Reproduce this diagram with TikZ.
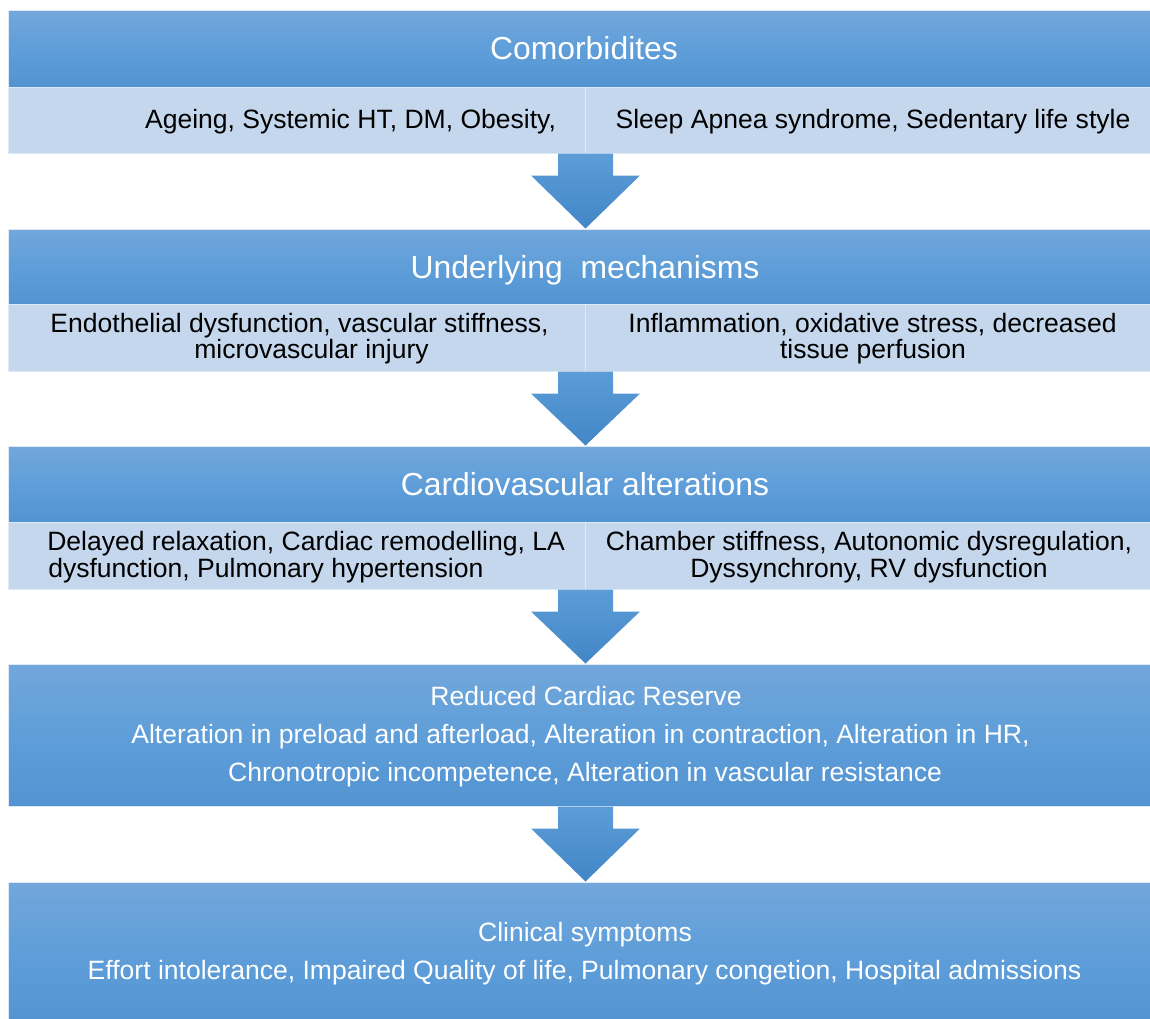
\documentclass[tikz,border=0pt]{standalone}
\usepackage{fontspec}
\setmainfont{Liberation Sans}
\usetikzlibrary{fit,calc}

\definecolor{hdrtop}{RGB}{114,167,219}
\definecolor{hdrmid}{RGB}{95,158,217}
\definecolor{hdrbot}{RGB}{82,148,210}
\definecolor{cellfill}{RGB}{197,215,236}
\definecolor{celledge}{RGB}{224,234,245}
\definecolor{arrtop}{RGB}{92,157,215}
\definecolor{arrbot}{RGB}{66,134,199}

% block arrow pointing down from a row (#1, x of the shaft) to the next band (#2)
\newcommand\flowarrow[2]{%
  \path[flow] ($(#1)+(-27.5,0)$) -- ($(#1)+(27.5,0)$) -- ($(#1)+(27.5,22)$)
    -- ($(#1)+(54.5,22)$) -- (#1 |- #2) -- ($(#1)+(-54.5,22)$)
    -- ($(#1)+(-27.5,22)$) -- cycle;}

\begin{document}
\begin{tikzpicture}[x=0.75pt,y=-0.75pt,
  band/.style={inner sep=0pt, draw=celledge, line width=0.75pt,
    top color=hdrtop, bottom color=hdrbot, middle color=hdrmid},
  cell/.style={inner sep=0pt, draw=celledge, line width=0.75pt, fill=cellfill},
  ttl/.style={text=white, font=\fontsize{23.9}{28}\selectfont, inner sep=0pt, anchor=base},
  txt/.style={text=black, font=\fontsize{19.9}{24}\selectfont, inner sep=0pt, anchor=base},
  wtxt/.style={txt, text=white},
  flow/.style={draw=none, top color=arrtop, bottom color=arrbot}]

\useasboundingbox (0,0) rectangle (1150,1018);
\clip (0,0) rectangle (1150,1018);

% ---- Comorbidites
\node[band, fit={(8,10) (1151,87)}] (h1) {};
\node[ttl] (h1t) at (584,59) {Comorbidites};
\node[cell, fit={(8,87) (585,153)}] (c1l) {};
\node[cell, fit={(585,87) (1151,153)}] (c1r) {};
\node[txt] (t1l) at (350.5,128) {Ageing, Systemic HT, DM, Obesity,};
\node[txt] (t1r) at (873,128) {Sleep Apnea syndrome, Sedentary life style};

% ---- Underlying mechanisms
\node[band, fit={(8,229) (1151,304)}] (h2) {};
\node[ttl] (h2t) at (585,278) {Underlying\ \ mechanisms};
\node[cell, fit={(8,304) (585,371)}] (c2l) {};
\node[cell, fit={(585,304) (1151,371)}] (c2r) {};
\node[txt] (t2l1) at (299.5,332) {Endothelial dysfunction, vascular stiffness,};
\node[txt] (t2l2) at (311.5,358) {microvascular injury};
\node[txt] (t2r1) at (872.5,332) {Inflammation, oxidative stress, decreased};
\node[txt] (t2r2) at (873,358) {tissue perfusion};

% ---- Cardiovascular alterations
\node[band, fit={(8,446) (1151,522)}] (h3) {};
\node[ttl] (h3t) at (585,495) {Cardiovascular alterations};
\node[cell, fit={(8,522) (585,589)}] (c3l) {};
\node[cell, fit={(585,522) (1151,589)}] (c3r) {};
\node[txt, anchor=base west] (t3l1) at (47,550) {Delayed relaxation, Cardiac remodelling, LA};
\node[txt, anchor=base west] (t3l2) at (48,577) {dysfunction, Pulmonary hypertension};
\node[txt] (t3r1) at (869,550) {Chamber stiffness, Autonomic dysregulation,};
\node[txt] (t3r2) at (869,577) {Dyssynchrony, RV dysfunction};

% ---- Reduced cardiac reserve
\node[band, fit={(8,664) (1151,806)}] (b4) {};
\node[wtxt] (t4a) at (586,705) {Reduced Cardiac Reserve};
\node[wtxt] (t4b) at (580.5,743) {Alteration in preload and afterload, Alteration in contraction, Alteration in HR,};
\node[wtxt] (t4c) at (585,781) {Chronotropic incompetence, Alteration in vascular resistance};

% ---- Clinical symptoms
\node[band, fit={(8,882) (1151,1024)}] (b5) {};
\node[wtxt] (t5a) at (585,941) {Clinical symptoms};
\node[wtxt] (t5b) at (584.5,979) {Effort intolerance, Impaired Quality of life, Pulmonary congetion, Hospital admissions};

% ---- arrows between the stages
\coordinate (a4) at (b4.south -| c3l.south east);
\flowarrow{c1l.south east}{h2.north}
\flowarrow{c2l.south east}{h3.north}
\flowarrow{c3l.south east}{b4.north}
\flowarrow{a4}{b5.north}
\end{tikzpicture}
\end{document}
